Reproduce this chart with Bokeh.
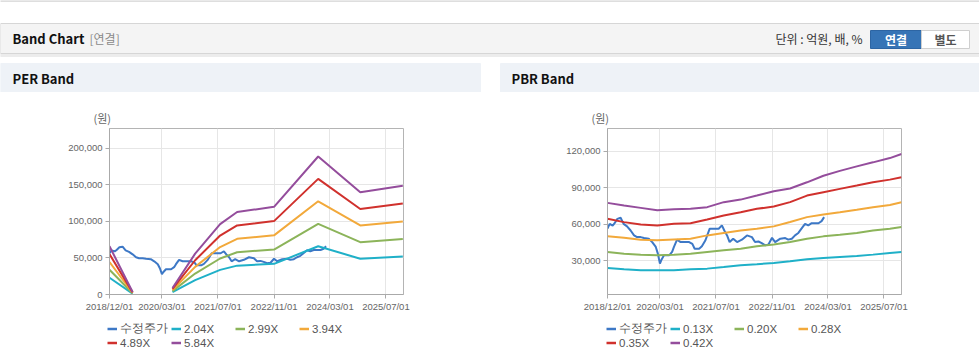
import numpy as np
import pandas as pd
from bokeh.plotting import figure
from bokeh.models import (ColumnDataSource, FixedTicker, NumeralTickFormatter, DatetimeTickFormatter,
                          Range1d, Legend, LegendItem, Spacer)
from bokeh.layouts import column, row
from bokeh.embed import file_html
from bokeh.resources import INLINE
from bokeh.core.properties import value

# ---------------- data ----------------
X_TICK_LABELS = ["2018/12/01", "2020/03/01", "2021/07/01", "2022/11/01", "2024/03/01", "2025/07/01"]
X_START = "2018-12-01"
X_END = "2025-12-01"

PRICE_LABEL = "수정주가"
PRICE_DATES = ["2018-12-01", "2018-12-20", "2019-01-15", "2019-02-01", "2019-02-25", "2019-03-25",
               "2019-04-20", "2019-05-20", "2019-06-20", "2019-07-20", "2019-08-15", "2019-09-15",
               "2019-10-15", "2019-11-25", "2019-12-25", "2020-01-25", "2020-02-12", "2020-03-01",
               "2020-03-12", "2020-04-05", "2020-05-20", "2020-06-15", "2020-07-01", "2020-07-28",
               "2020-08-28", "2020-11-10", "2020-12-08", "2020-12-28", "2021-02-05", "2021-03-01",
               "2021-04-01", "2021-04-22", "2021-05-08", "2021-06-12", "2021-07-25", "2021-08-22",
               "2021-09-12", "2021-10-06", "2021-10-28", "2021-11-28", "2022-01-01", "2022-02-12",
               "2022-03-28", "2022-05-10", "2022-06-06", "2022-07-06", "2022-08-03", "2022-09-03",
               "2022-10-01", "2022-11-01", "2022-11-28", "2023-01-12", "2023-02-24", "2023-03-22",
               "2023-04-22", "2023-05-20", "2023-06-18", "2023-07-15", "2023-08-15", "2023-09-12",
               "2023-10-12", "2023-12-10", "2024-01-06", "2024-01-28"]
PRICE = [56500, 60500, 59000, 61000, 64600, 65500,
         60500, 58400, 55000, 51000, 49600, 49600,
         48800, 48300, 45500, 41500, 36000, 27800,
         30500, 34600, 34600, 37400, 41500, 47500,
         45500, 45500, 44000, 40000, 40000, 42000,
         47000, 52400, 56500, 56500, 56500, 59200,
         55000, 51000, 45500, 48300, 45500, 47500,
         51000, 49600, 45500, 46000, 44700, 42800,
         43500, 49000, 45500, 48300, 48800, 47500,
         48300, 51000, 53000, 56500, 60500, 59200,
         61000, 61000, 62700, 66000]

PER_LABELS = ["2.04X", "2.99X", "3.94X", "4.89X", "5.84X"]
PER_DATES = ["2018-12-01", "2019-06-20", "2019-12-01", "2020-06-01", "2020-12-15", "2021-07-20",
             "2021-12-15", "2022-11-01", "2023-11-20", "2024-11-20", "2025-11-25"]
nan = float("nan")
PER_204 = [23000, 1200, nan, 3200, 19600, 33700, 39500, 42000, 66000, 49000, 52000]
PER_299 = [33800, 1800, nan, 4600, 28700, 49300, 57900, 61500, 96800, 71700, 76000]
PER_394 = [44500, 2400, nan, 6100, 37800, 65000, 76200, 81000, 127600, 94500, 100000]
PER_489 = [55300, 2900, nan, 7600, 46900, 80700, 94600, 100500, 158300, 117000, 124700]
PER_584 = [66000, 3500, nan, 9000, 56000, 96400, 113000, 120000, 189000, 140000, 149000]
PER_Y_TICKS = [0, 50000, 100000, 150000, 200000]

PBR_LABELS = ["0.13X", "0.20X", "0.28X", "0.35X", "0.42X"]
PBR_DATES = ["2018-12-01", "2019-04-24", "2019-09-16", "2020-02-07", "2020-07-01", "2020-11-22",
             "2021-04-16", "2021-09-07", "2022-02-01", "2022-06-22", "2022-11-16", "2023-04-07",
             "2023-09-01", "2024-01-22", "2024-06-13", "2024-11-07", "2025-03-28", "2025-08-22",
             "2025-12-01"]
PBR_013 = [24300, 23200, 22400, 22400, 22400, 23200, 23700, 25000, 26500, 27300, 28400, 29700,
           31400, 32500, 33300, 34000, 35200, 36500, 37400]
PBR_020 = [37400, 36000, 35200, 34600, 35200, 36000, 37400, 38700, 40000, 42000, 43600, 45500,
           48300, 50200, 51500, 53000, 55000, 56500, 57800]
PBR_028 = [50200, 49000, 47500, 47000, 47700, 48300, 51000, 53000, 55000, 56500, 58400, 62000,
           66000, 68200, 70000, 72000, 74200, 76000, 78300]
PBR_035 = [64600, 61900, 60000, 59200, 60500, 61000, 64000, 67400, 70000, 72800, 74700, 78300,
           83700, 86500, 89200, 91900, 94600, 96800, 98700]
PBR_042 = [77700, 75500, 73600, 71600, 72500, 72800, 74200, 78300, 80400, 83700, 87300, 89500,
           94600, 100000, 104000, 107700, 111000, 114500, 117800]
PBR_Y_TICKS = [30000, 60000, 90000, 120000]

HEADER_TITLE = "Band Chart"
HEADER_TAG = "[연결]"
UNIT_TEXT = "단위 : 억원, 배, %"
BUTTONS = ["연결", "별도"]
PANEL_TITLES = ["PER Band", "PBR Band"]

PRICE_COLOR = "#3d78c6"
BAND_COLORS = ["#1fb0c8", "#8cb45a", "#f2a93b", "#d0312d", "#944d9c"]

# --------------- helpers ---------------
def ms(s):
    return pd.Timestamp(s).timestamp() * 1000.0

X_TICKS_MS = [ms(t.replace("/", "-")) for t in X_TICK_LABELS]
FONT = "Liberation Sans"
KFONT = "Noto Sans CJK KR"
FMT = "%Y/%m/%d"
W = 979
TOP_H = 92
CH_H = 230
LEG_H = 39


def bare(p):
    p.axis.visible = False
    p.grid.visible = False
    p.outline_line_color = None
    p.background_fill_color = "white"
    p.border_fill_color = "white"


# ---- top strip: header bar + panel title bars (pixel coordinates, y downward) ----
top = figure(width=W, height=TOP_H, x_range=Range1d(0, W), y_range=Range1d(TOP_H, 0),
             output_backend="svg", toolbar_location=None, min_border=0, margin=(0, 0, 0, 0))
bare(top)
top.quad(left=[0], right=[W], top=[0], bottom=[1], color="#dedede")
top.quad(left=[0], right=[W], top=[53], bottom=[56], color="#ececec")
top.quad(left=[0], right=[W], top=[23], bottom=[53], fill_color="#f4f4f4",
         line_color="#d6d6d6", line_width=1)
top.quad(left=[0, 500], right=[480, W], top=[63, 63], bottom=[92, 92], color="#eef2f7")
top.text(x=[12], y=[38], text=[HEADER_TITLE], text_font=value(KFONT), text_font_style="bold",
         text_font_size="13px", text_baseline="middle", text_color="#111111")
top.text(x=[89], y=[38], text=[HEADER_TAG], text_font=value(KFONT), text_font_size="12px",
         text_baseline="middle", text_color="#8a8a8a")
top.text(x=[862], y=[38], text=[UNIT_TEXT], text_font=value(KFONT), text_font_size="12px",
         text_baseline="middle", text_align="right", text_color="#333333")
top.quad(left=[870], right=[921], top=[30], bottom=[48], fill_color="#3674b6", line_color="#2d65a3")
top.quad(left=[921], right=[969], top=[30], bottom=[48], fill_color="#ffffff", line_color="#cfcfcf")
top.text(x=[895.5, 945], y=[39, 39], text=BUTTONS, text_font=value(KFONT), text_font_style="bold",
         text_font_size="12px", text_baseline="middle", text_align="center",
         text_color=["#ffffff", "#555555"])
top.text(x=[12, 511], y=[78, 78], text=PANEL_TITLES, text_font=value(KFONT), text_font_style="bold",
         text_font_size="13px", text_baseline="middle", text_color="#111111")


def make_chart(width, left, right, y_range, y_ticks, band_dates, bands):
    p = figure(width=width, height=CH_H, x_axis_type="datetime",
               x_range=Range1d(pd.Timestamp(X_START), pd.Timestamp(X_END)),
               y_range=Range1d(*y_range), output_backend="svg", toolbar_location=None,
               min_border_left=left, min_border_right=right, min_border_top=36,
               min_border_bottom=CH_H - 36 - 166, margin=(0, 0, 0, 0))
    p.background_fill_color = "white"
    p.border_fill_color = "white"
    p.outline_line_color = "#b4b4b4"

    p.title.text = "(원)"
    p.title.align = "left"
    p.title.offset = -16
    p.title.standoff = 5
    p.title.text_font = KFONT
    p.title.text_font_size = "11px"
    p.title.text_font_style = "normal"
    p.title.text_color = "#666666"

    p.xaxis.ticker = FixedTicker(ticks=X_TICKS_MS)
    p.xaxis.formatter = DatetimeTickFormatter(
        microseconds=FMT, milliseconds=FMT, seconds=FMT, minsec=FMT, minutes=FMT,
        hourmin=FMT, hours=FMT, days=FMT, months=FMT, years=FMT)
    p.yaxis.ticker = FixedTicker(ticks=y_ticks)
    p.yaxis.formatter = NumeralTickFormatter(format="0,0")
    for ax in (p.xaxis, p.yaxis):
        ax.axis_line_color = "#aaaaaa"
        ax.major_tick_line_color = "#aaaaaa"
        ax.major_tick_out = 4
        ax.major_tick_in = 0
        ax.minor_tick_line_color = None
        ax.major_label_text_font = FONT
        ax.major_label_text_font_size = "9.5px"
        ax.major_label_text_color = "#666666"
    p.xaxis.major_label_standoff = 2
    p.yaxis.major_label_standoff = 3
    p.grid.grid_line_color = "#e6e6e6"

    psrc = ColumnDataSource(dict(x=pd.to_datetime(PRICE_DATES), y=PRICE))
    p.line("x", "y", source=psrc, line_color=PRICE_COLOR, line_width=2)
    xd = pd.to_datetime(band_dates)
    for vals, col in zip(bands, BAND_COLORS):
        src = ColumnDataSource(dict(x=xd, y=vals))
        p.line("x", "y", source=src, line_color=col, line_width=2)
    return p


per = make_chart(480, 109, 77, (0, 227300), PER_Y_TICKS, PER_DATES,
                 [PER_204, PER_299, PER_394, PER_489, PER_584])
pbr = make_chart(479, 107, 78, (2450, 138800), PBR_Y_TICKS, PBR_DATES,
                 [PBR_013, PBR_020, PBR_028, PBR_035, PBR_042])

# ---- legend strip under both charts ----
leg = figure(width=W, height=LEG_H, x_range=Range1d(0, 1), y_range=Range1d(0, 1),
             output_backend="svg", toolbar_location=None, min_border=0, margin=(0, 0, 0, 0))
bare(leg)


def add_legend(labels, x0):
    colors = [PRICE_COLOR] + BAND_COLORS
    items = []
    for lab, col in zip([PRICE_LABEL] + labels, colors):
        # legend-key renderer only: its two points lie outside the visible range
        r = leg.line(x=[0, 0], y=[-3, -2], line_color=col, line_width=2.5)
        items.append(LegendItem(label=lab, renderers=[r]))
    lg = Legend(items=items, ncols=4, orientation="horizontal", location=(x0, 12),
                glyph_width=10, glyph_height=13, label_width=51, label_height=13,
                label_standoff=3, spacing=0, padding=0, margin=0,
                border_line_color=None, background_fill_alpha=0,
                label_text_font=FONT, label_text_font_size="11.5px",
                label_text_color="#555555")
    leg.add_layout(lg, "center")


add_legend(PER_LABELS, 107)
add_legend(PBR_LABELS, 606)

mid = Spacer(width=20, height=CH_H, margin=(0, 0, 0, 0))
layout = column(top, row(per, mid, pbr, spacing=0), leg, spacing=0)

open("out.html", "w").write(file_html(layout, INLINE))
